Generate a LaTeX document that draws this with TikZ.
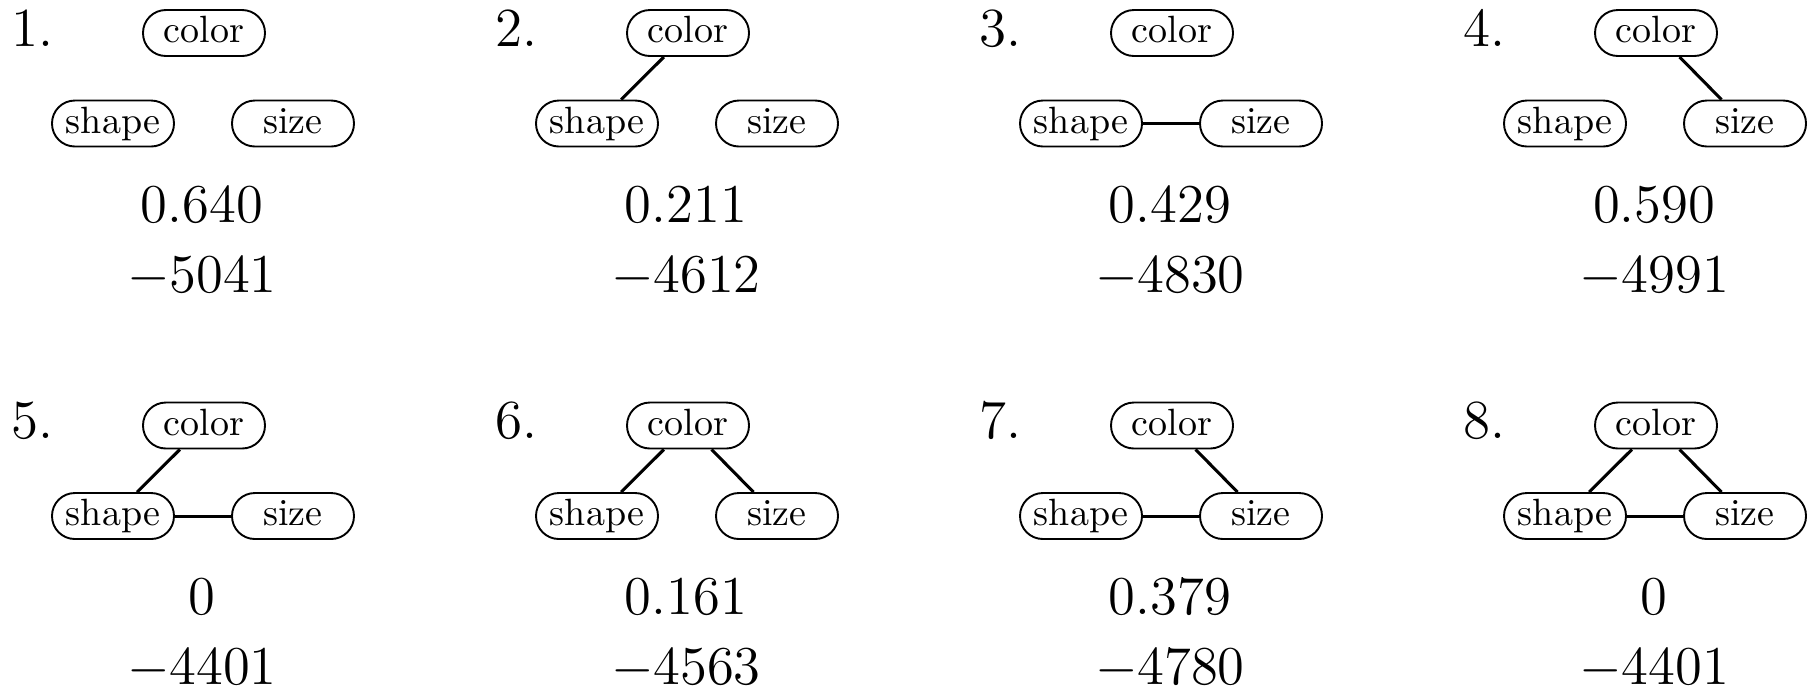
\documentclass[tikz,border=0pt]{standalone}
\begin{document}
\begin{tikzpicture}[x=0.26316pt,y=-0.26316pt,
  attr/.style={draw,line width=0.5pt,rectangle,rounded corners=6pt,minimum width=32.1pt,minimum height=12.1pt,inner sep=0pt,text height=6.94pt,text depth=1.94pt,font=\fontsize{10}{12}\selectfont},
  num/.style={anchor=base,inner sep=0pt,font=\fontsize{15.2}{18}\selectfont},
  lab/.style={anchor=base west,inner sep=0pt,font=\fontsize{14.5}{17}\selectfont},
  link/.style={line width=0.8pt}]
\useasboundingbox (0,0) rectangle (1808,690);
\foreach \k/\c/\r/\a/\b in {1/0/0/0.640/5041,2/1/0/0.211/4612,3/2/0/0.429/4830,4/3/0/0.590/4991,
  5/0/1/0/4401,6/1/1/0.161/4563,7/2/1/0.379/4780,8/3/1/0/4401}{
  \begin{scope}[shift={(484*\c,392.5*\r)}]
    \node[lab] (l\k) at (11,46) {\k.};
    \node[attr] (c\k) at (204,33) {color};
    \node[attr] (sh\k) at (113,123.5) {shape};
    \node[attr] (sz\k) at (293,123.5) {size};
    \node[num] (v\k) at (202,222) {$\a$};
    \node[num] (w\k) at (202,292) {$-\b$};
  \end{scope}
}
\draw[link] (c2) -- (sh2);
\draw[link] (sh3) -- (sz3);
\draw[link] (c4) -- (sz4);
\draw[link] (c5) -- (sh5);
\draw[link] (sh5) -- (sz5);
\draw[link] (c6) -- (sh6);
\draw[link] (c6) -- (sz6);
\draw[link] (c7) -- (sz7);
\draw[link] (sh7) -- (sz7);
\draw[link] (c8) -- (sh8);
\draw[link] (c8) -- (sz8);
\draw[link] (sh8) -- (sz8);
\end{tikzpicture}
\end{document}
